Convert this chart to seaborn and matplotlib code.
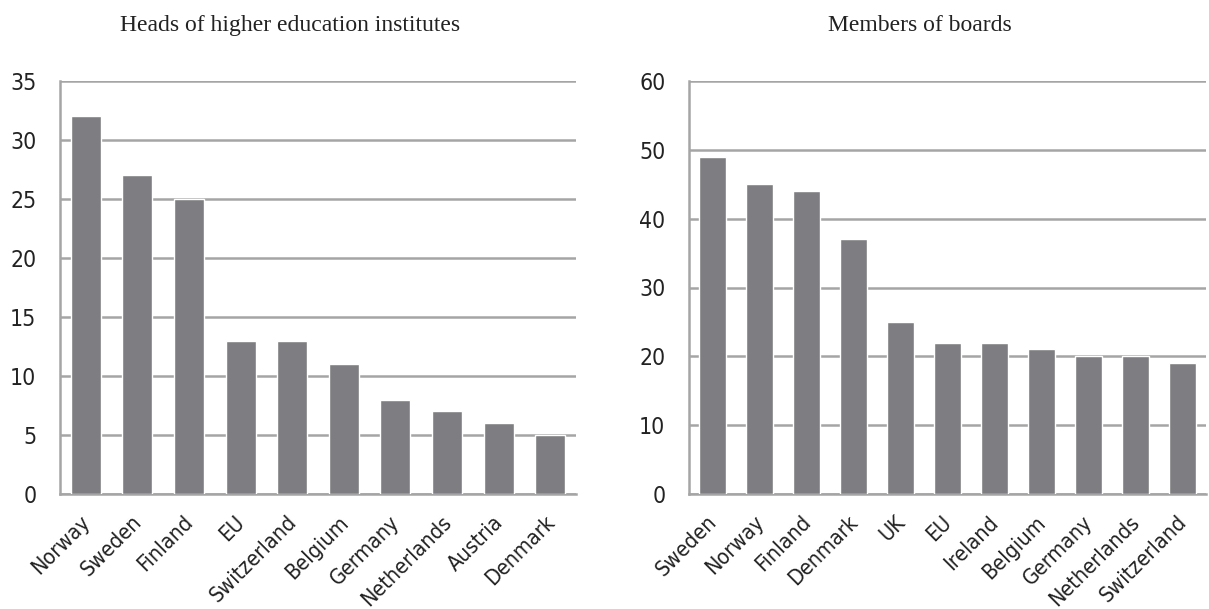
import matplotlib
matplotlib.use("Agg")
import matplotlib.pyplot as plt
import matplotlib.font_manager as fm
import matplotlib.transforms as mtransforms
import numpy as np
import pandas as pd
import seaborn as sns

# Share of women (%) among heads of higher education institutes
heads_countries = ["Norway", "Sweden", "Finland", "EU", "Switzerland", "Belgium",
                   "Germany", "Netherlands", "Austria", "Denmark"]
heads_values = [32, 27, 25, 13, 13, 11, 8, 7, 6, 5]

# Share of women (%) among members of boards
boards_countries = ["Sweden", "Norway", "Finland", "Denmark", "UK", "EU", "Ireland",
                    "Belgium", "Germany", "Netherlands", "Switzerland"]
boards_values = [49, 45, 44, 37, 25, 22, 22, 21, 20, 20, 19]

heads_ticks = [0, 5, 10, 15, 20, 25, 30, 35]
boards_ticks = [0, 10, 20, 30, 40, 50, 60]

sns.set_style("white")
plt.rcParams["font.family"] = ["DejaVu Sans"]
plt.rcParams["font.stretch"] = "condensed"

# pick a narrow face for tick labels
narrow = None
for f in fm.fontManager.ttflist:
    if f.name == "Liberation Sans Narrow" and f.weight in (400, "normal", "regular") and f.style == "normal":
        narrow = f.fname
        break
if narrow is None:
    for f in fm.fontManager.ttflist:
        if f.name == "DejaVu Sans" and "Condensed" in f.fname and "Bold" not in f.fname \
                and "Oblique" not in f.fname:
            narrow = f.fname
            break
tick_font = fm.FontProperties(fname=narrow) if narrow else fm.FontProperties(family="DejaVu Sans")

BAR = "#7e7e82"
GRID = "#a5a5a5"
TXT = "#222222"

fig = plt.figure(figsize=(12.09, 6.09), dpi=100)
ax1 = fig.add_axes([60 / 1209, 115 / 609, 516 / 1209, 413 / 609])
ax2 = fig.add_axes([689 / 1209, 115 / 609, 517 / 1209, 413 / 609])


def draw(ax, cats, vals, ticks, title, title_x):
    df = pd.DataFrame({"country": cats, "value": vals})
    sns.barplot(data=df, x="country", y="value", color=BAR, width=0.58,
                saturation=1, ax=ax, zorder=3)
    n = len(cats)
    ax.set_xlim(-0.5, n - 0.5)
    ax.set_ylim(ticks[0], ticks[-1])
    ax.yaxis.grid(True, color=GRID, linewidth=1.8, zorder=0)
    ax.set_axisbelow(True)
    for s in ["top", "right"]:
        ax.spines[s].set_visible(False)
    for s in ["left", "bottom"]:
        ax.spines[s].set_color(GRID)
        ax.spines[s].set_linewidth(1.8)
    ax.set_xlabel("")
    ax.set_ylabel("")
    # category boundary tick marks
    ax.set_xticks(np.arange(-0.5, n, 1.0), minor=True)
    ax.tick_params(axis="x", which="minor", length=7, width=1.8, color=GRID, direction="out")
    ax.tick_params(axis="x", which="major", length=0, pad=13)
    ax.tick_params(axis="y", length=7, width=1.8, color=GRID, pad=10)
    ax.set_yticks(ticks)
    ax.set_yticklabels([str(t) for t in ticks], fontproperties=tick_font, fontsize=16.5,
                       color=TXT)
    ax.set_xticks(range(n))
    ax.set_xticklabels(cats, rotation=45, ha="right", rotation_mode="anchor",
                       fontproperties=tick_font, fontsize=15.5, color=TXT)
    shift = mtransforms.ScaledTranslation(-6 / 100, 0, fig.dpi_scale_trans)
    for lab in ax.get_xticklabels():
        lab.set_transform(lab.get_transform() + shift)
    fig.text(title_x / 1209, 1 - 31 / 609, title, family="Liberation Serif", fontsize=17,
             color=TXT, ha="center", va="baseline")


draw(ax1, heads_countries, heads_values, heads_ticks,
     "Heads of higher education institutes", 290)
draw(ax2, boards_countries, boards_values, boards_ticks, "Members of boards", 920)

fig.savefig("out.png", dpi=100)
